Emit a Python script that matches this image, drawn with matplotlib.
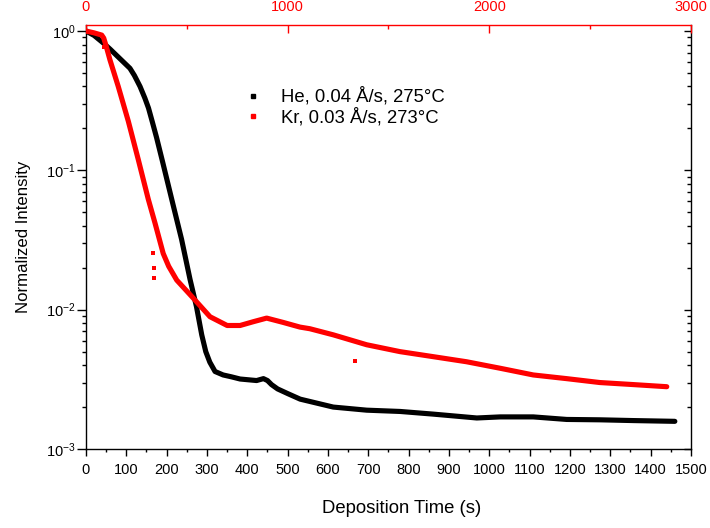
import matplotlib
matplotlib.use('Agg')
import matplotlib.pyplot as plt
from matplotlib.lines import Line2D
from matplotlib.ticker import MultipleLocator, LogLocator, NullFormatter

plt.rcParams['font.family'] = ['Liberation Sans', 'DejaVu Sans']
plt.rcParams['mathtext.fontset'] = 'custom'
plt.rcParams['mathtext.rm'] = 'Liberation Sans'

# He run, bottom axis (s)
he_t = [0, 20, 43, 60, 85, 109, 120, 134, 146, 155, 165, 175, 190, 217, 237, 258, 274, 287,
        297, 307, 320, 340, 360, 382, 423, 440, 450, 460, 475, 500, 531, 613, 696, 779,
        861, 969, 1027, 1109, 1192, 1275, 1357, 1460]
he_v = [1.0, 0.93, 0.82, 0.74, 0.63, 0.54, 0.48, 0.40, 0.33, 0.28, 0.22, 0.172, 0.115, 0.055,
        0.032, 0.0165, 0.0105, 0.0066, 0.0050, 0.0042, 0.0036, 0.0034, 0.0033, 0.00318,
        0.0031, 0.0032, 0.0031, 0.0029, 0.0027, 0.0025, 0.00228, 0.0020, 0.0019, 0.00186,
        0.00178, 0.00167, 0.0017, 0.0017, 0.00163, 0.00162, 0.0016, 0.00158]

# Kr run, top axis (s)
kr_t = [0, 40, 78, 88, 100, 119, 160, 210, 259, 309, 342, 383, 410, 450, 532, 615, 700,
        764, 830, 896, 978, 1061, 1110, 1226, 1392, 1557, 1722, 1887, 2053, 2218, 2383,
        2548, 2714, 2880]
kr_v = [1.0, 0.97, 0.935, 0.89, 0.78, 0.62, 0.40, 0.225, 0.12, 0.062, 0.042, 0.0253,
        0.0205, 0.0163, 0.0121, 0.0089, 0.0077, 0.0077, 0.0082, 0.0087, 0.0081, 0.0075,
        0.0073, 0.0066, 0.0056, 0.0050, 0.0046, 0.00423, 0.0038, 0.0034, 0.0032, 0.0030,
        0.0029, 0.0028]

# stray Kr points
kr_out_t = [87, 334, 336, 336, 1336]
kr_out_v = [0.77, 0.0256, 0.020, 0.0169, 0.0043]

labels = ['He, 0.04 Å/s, 275°C', 'Kr, 0.03 Å/s, 273°C']

fig = plt.figure(figsize=(7.1, 5.28), dpi=100)
ax = fig.add_axes([0.1211, 0.1496, 0.8521, 0.803])

ax.plot(he_t, he_v, color='black', lw=3.7, solid_joinstyle='round', solid_capstyle='round')
ax.set_yscale('log')
ax.set_ylim(1e-3, 1.104)
ax.set_xlim(0, 1500)
ax.xaxis.set_major_locator(MultipleLocator(100))
ax.xaxis.set_minor_locator(MultipleLocator(50))
ax.yaxis.set_major_locator(LogLocator(base=10))
ax.yaxis.set_minor_locator(LogLocator(base=10, subs=range(2, 10)))
ax.yaxis.set_minor_formatter(NullFormatter())
ax.tick_params(axis='x', which='major', direction='out', length=5, width=1, labelsize=10.5, pad=5)
ax.tick_params(axis='x', which='minor', direction='out', length=2.5, width=1)
ax.tick_params(axis='y', which='major', direction='out', length=6.5, width=1, labelsize=10.5, pad=1)
ax.tick_params(axis='y', which='minor', direction='out', length=3, width=1)
ax.spines['top'].set_visible(False)
ax.spines['right'].set_visible(False)
for s in ['left', 'bottom']:
    ax.spines[s].set_linewidth(1)

ax.set_xlabel('Deposition Time (s)', fontsize=13.3)
ax.xaxis.set_label_coords(0.522, -0.12)
ax.set_ylabel('Normalized Intensity', fontsize=12.1)
ax.yaxis.set_label_coords(-0.091, 0.5)

# right side: ticks only, pointing in
axr = ax.twinx()
axr.set_yscale('log')
axr.set_ylim(ax.get_ylim())
axr.yaxis.set_major_locator(LogLocator(base=10))
axr.yaxis.set_minor_locator(LogLocator(base=10, subs=range(2, 10)))
axr.tick_params(axis='y', which='major', direction='in', length=5, width=1, labelright=False)
axr.tick_params(axis='y', which='minor', direction='in', length=3, width=1)
for s in ['left', 'bottom', 'top']:
    axr.spines[s].set_visible(False)
axr.spines['right'].set_linewidth(1)

# top axis for Kr
ax2 = ax.twiny()
ax2.plot(kr_t, kr_v, color='red', lw=3.7, solid_joinstyle='round', solid_capstyle='round')
ax2.plot(kr_out_t, kr_out_v, 's', color='red', ms=2.6, mew=0)
ax2.set_xlim(0, 3000)
ax2.xaxis.set_major_locator(MultipleLocator(1000))
ax2.xaxis.set_minor_locator(MultipleLocator(500))
ax2.tick_params(axis='x', which='major', direction='in', length=6, width=1, colors='red',
                labelsize=10.5, pad=8)
ax2.tick_params(axis='x', which='minor', direction='in', length=3, width=1, colors='red')
for s in ['left', 'bottom', 'right']:
    ax2.spines[s].set_visible(False)
ax2.spines['top'].set_color('red')
ax2.spines['top'].set_linewidth(1)

handles = [Line2D([], [], marker='s', ls='none', color='black', ms=2.6),
           Line2D([], [], marker='s', ls='none', color='red', ms=2.6)]
fig.legend(handles, labels, loc='upper left', bbox_to_anchor=(0.3432, 0.8343),
           frameon=False, borderpad=0, handlelength=1.0, handletextpad=1.0,
           labelspacing=0.12, fontsize=13.3, borderaxespad=0)

fig.savefig('out.png', dpi=100)
